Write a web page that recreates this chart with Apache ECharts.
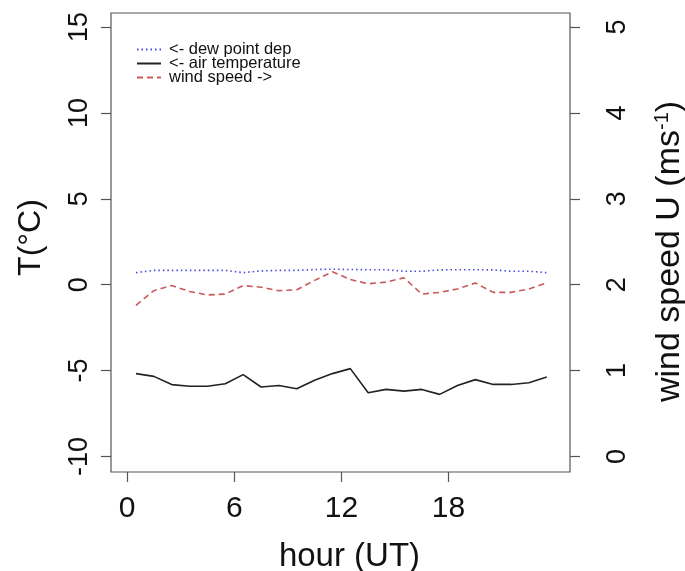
<!DOCTYPE html>
<html>
<head>
<meta charset="utf-8">
<script src="https://cdn.jsdelivr.net/npm/echarts@6/dist/echarts.min.js"></script>
<style>
html,body{margin:0;padding:0;background:#fff;}
#c{width:685px;height:571px;}
</style>
</head>
<body>
<div id="c"></div>
<script>
const hours = [0.5, 1.5, 2.5, 3.5, 4.5, 5.5, 6.5, 7.5, 8.5, 9.5, 10.5, 11.5,
               12.5, 13.5, 14.5, 15.5, 16.5, 17.5, 18.5, 19.5, 20.5, 21.5, 22.5, 23.5];
const dewPointDep = [0.70, 0.83, 0.83, 0.83, 0.83, 0.83, 0.70, 0.80, 0.83, 0.83, 0.88, 0.90,
                     0.88, 0.87, 0.87, 0.78, 0.78, 0.86, 0.87, 0.87, 0.86, 0.78, 0.78, 0.70];
const airTemp = [-5.18, -5.34, -5.82, -5.92, -5.92, -5.77, -5.24, -5.96, -5.87, -6.06, -5.57, -5.18,
                 -4.89, -6.29, -6.10, -6.20, -6.10, -6.39, -5.87, -5.53, -5.81, -5.81, -5.71, -5.38];
const windSpeed = [1.76, 1.93, 1.99, 1.92, 1.88, 1.89, 1.99, 1.97, 1.93, 1.94, 2.05, 2.15,
                   2.06, 2.01, 2.03, 2.08, 1.89, 1.91, 1.95, 2.02, 1.91, 1.91, 1.95, 2.02];
const xTicks = [0, 6, 12, 18];
const tTicks = [-10, -5, 0, 5, 10, 15];
const wTicks = [0, 1, 2, 3, 4, 5];
const seriesNames = ['<- dew point dep', '<- air temperature', 'wind speed ->'];

const pair = (vals) => hours.map((h, i) => [h, vals[i]]);
const FONT = '"Liberation Sans", Arial, Helvetica, sans-serif';
const AX = '#555';

const chart = echarts.init(document.getElementById('c'), null, {renderer: 'canvas'});
chart.setOption({
  animation: false,
  backgroundColor: '#fff',
  textStyle: {fontFamily: FONT},
  grid: {left: 111, right: 115, top: 13, bottom: 99, show: true, borderColor: AX, borderWidth: 1.2,
         backgroundColor: 'transparent', outerBoundsMode: 'none', containLabel: false},
  legend: {
    orient: 'vertical', left: 131, top: 36, itemGap: -3,
    itemWidth: 24, itemHeight: 13,
    itemStyle: {opacity: 0},
    textStyle: {fontFamily: FONT, fontSize: 16.5, color: '#111', padding: [0, 0, 0, 3]},
    data: seriesNames
  },
  xAxis: {
    type: 'value', min: -0.9, max: 24.8,
    name: 'hour (UT)', nameLocation: 'middle', nameGap: 68,
    nameTextStyle: {fontFamily: FONT, fontSize: 33, color: '#111', padding: [0, 0, 0, 18]},
    axisLine: {show: false, onZero: false},
    axisTick: {show: true, customValues: xTicks, length: 10, lineStyle: {color: AX, width: 1.2}},
    axisLabel: {show: true, customValues: xTicks, margin: 22, fontSize: 30, color: '#111', fontFamily: FONT},
    splitLine: {show: false}
  },
  yAxis: [{
    type: 'value', min: -10.91, max: 15.82, position: 'left',
    name: 'T(°C)', nameLocation: 'middle', nameGap: 64, nameRotate: 90,
    nameTextStyle: {fontFamily: FONT, fontSize: 32, color: '#111', padding: [0, 0, 0, 10]},
    axisLine: {show: false, onZero: false},
    axisTick: {show: true, customValues: tTicks, length: 10, lineStyle: {color: AX, width: 1.2}},
    axisLabel: {show: true, customValues: tTicks, rotate: 90, margin: 18, fontSize: 27, color: '#111', fontFamily: FONT},
    splitLine: {show: false}
  }, {
    type: 'value', min: -0.182, max: 5.164, position: 'right',
    name: 'wind speed U (ms{sup|-1})', nameLocation: 'middle', nameGap: 82, nameRotate: 90,
    nameTextStyle: {fontFamily: FONT, fontSize: 34, color: '#111', padding: [0, 18, 0, 0],
      rich: {sup: {fontFamily: FONT, fontSize: 20, color: '#111', verticalAlign: 'top', padding: [0, 0, 16, 0]}}},
    axisLine: {show: false, onZero: false},
    axisTick: {show: true, customValues: wTicks, length: 10, lineStyle: {color: AX, width: 1.2}},
    axisLabel: {show: true, customValues: wTicks, rotate: 90, margin: 34, fontSize: 27, color: '#111', fontFamily: FONT},
    splitLine: {show: false}
  }],
  series: [{
    name: seriesNames[0], type: 'line', yAxisIndex: 0, data: pair(dewPointDep),
    symbol: 'none', showSymbol: false,
    lineStyle: {color: '#4a4ae0', width: 1.6, type: [1.5, 3]},
    itemStyle: {color: '#4a4ae0'}
  }, {
    name: seriesNames[1], type: 'line', yAxisIndex: 0, data: pair(airTemp),
    symbol: 'none', showSymbol: false,
    lineStyle: {color: '#222', width: 1.6, type: 'solid'},
    itemStyle: {color: '#222'}
  }, {
    name: seriesNames[2], type: 'line', yAxisIndex: 1, data: pair(windSpeed),
    symbol: 'none', showSymbol: false,
    lineStyle: {color: '#c85a5a', width: 1.6, type: [6, 4]},
    itemStyle: {color: '#c85a5a'}
  }]
});
</script>
</body>
</html>
